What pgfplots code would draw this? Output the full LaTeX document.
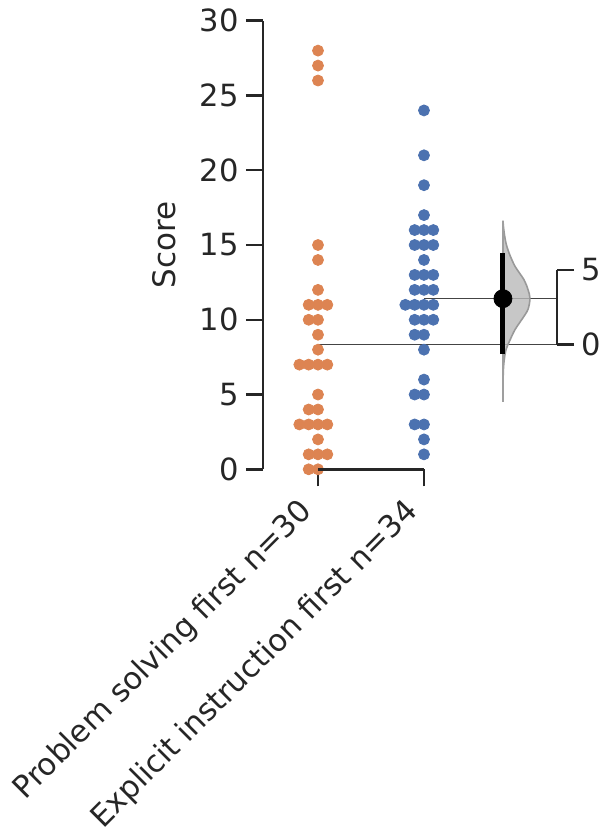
\documentclass[border=0pt]{standalone}
\usepackage{pgfplots}
\pgfplotsset{compat=1.18}
\usepackage{fontspec}
\setmainfont{DejaVu Sans}
\definecolor{sorange}{HTML}{DD8452}
\definecolor{sblue}{HTML}{4C72B0}
\definecolor{txt}{HTML}{262626}
\definecolor{mline}{HTML}{444444}
\begin{document}
\begin{tikzpicture}
\begin{axis}[name=main, at={(0,0)}, anchor=south west,
  scale only axis, width=147pt, height=224.3pt,
  xmin=-0.519, xmax=2.255, ymin=0, ymax=30,
  axis lines*=left, axis line style={-, draw=txt, line width=1.25pt},
  x axis line style={draw=none},
  xtick={0,1}, xticklabels={Problem solving first n=30, Explicit instruction first n=34},
  ytick={0,5,...,30},
  tick align=outside, major tick length=8.5pt,
  every tick/.style={draw=txt, line width=1.25pt},
  tick label style={font=\fontsize{15.3}{18}\selectfont, text=txt},
  /pgf/number format/assume math mode=true,
  xticklabel style={xshift=-10.5pt, yshift=0pt, rotate=45, anchor=north east},
  ylabel={Score},
  ylabel style={at={(axis description cs:-0.335,0.5)}, anchor=center, rotate=0, font=\fontsize{15.5}{18}\selectfont, text=txt},
]
\addplot[only marks, mark=*, mark size=2.75pt, color=sorange] coordinates {
(0,28) (0,27) (0,26) (0,15) (0,14) (0,12)
(-0.088,11) (0,11) (0.088,11)
(-0.088,10) (0,10)
(0,9) (0,8)
(-0.176,7) (-0.088,7) (0,7) (0.088,7)
(0,5)
(-0.088,4) (0,4)
(-0.176,3) (-0.088,3) (0,3) (0.088,3)
(0,2)
(-0.088,1) (0,1) (0.088,1)
(-0.088,0) (0,0)
};
\addplot[only marks, mark=*, mark size=2.75pt, color=sblue] coordinates {
(1,24) (1,21) (1,19) (1,17)
(0.912,16) (1,16) (1.088,16)
(0.912,15) (1,15) (1.088,15)
(1,14)
(0.912,13) (1,13) (1.088,13)
(0.912,12) (1,12) (1.088,12)
(0.824,11) (0.912,11) (1,11) (1.088,11)
(0.912,10) (1,10) (1.088,10)
(0.912,9) (1,9)
(1,8) (1,6)
(0.912,5) (1,5)
(0.912,3) (1,3)
(1,2) (1,1)
};
\addplot[mline, line width=0.6pt] coordinates {(0,8.333) (2.255,8.333)};
\addplot[mline, line width=0.6pt] coordinates {(1,11.412) (2.255,11.412)};
\coordinate (b0) at (axis cs:0,0);
\coordinate (b1) at (axis cs:1,0);
\end{axis}
\draw[txt, line width=1.25pt] (b0) -- (b1);
\begin{axis}[at={(0,0)}, anchor=south west,
  scale only axis, width=147pt, height=224.3pt,
  xmin=-0.519, xmax=2.255, ymin=-8.333, ymax=21.667,
  hide x axis, axis y line*=right, y axis line style={draw=none},
  ytick={0,5},
  tick align=outside, major tick length=8.5pt,
  every tick/.style={draw=txt, line width=1.25pt},
  tick label style={font=\fontsize{15.3}{18}\selectfont, text=txt},
  /pgf/number format/assume math mode=true,
  clip=false,
]
\addplot[fill=gray!55, fill opacity=0.8, draw=gray!80, line width=0.8pt, smooth, tension=0.5] coordinates {
(1.745,8.3) (1.7497,7.9) (1.7573,7.45) (1.7733,6.8) (1.8016,6.15) (1.8582,5.25)
(1.9431,4.35) (1.9808,3.7) (1.9997,3.1) (1.9808,2.35) (1.9242,1.7) (1.8582,1.0)
(1.8110,0.3) (1.7733,-0.35) (1.7573,-1.0) (1.7478,-1.9) (1.745,-3.8)
};
\addplot[gray!75, line width=0.9pt] coordinates {(1.745,-3.8) (1.745,8.3)};
\addplot[black, line width=2.5pt] coordinates {(1.745,-0.62) (1.745,6.15)};
\addplot[only marks, mark=*, mark size=4.5pt, black] coordinates {(1.745,3.078)};
\coordinate (r0) at (axis cs:2.255,0);
\coordinate (r5) at (axis cs:2.255,5);
\end{axis}
\draw[txt, line width=1.25pt] (r0) -- (r5);
\pgfresetboundingbox
\path (main.south west) ++(-131.5pt,-181.35pt) rectangle ++(304pt,416pt);
\end{tikzpicture}
\end{document}
